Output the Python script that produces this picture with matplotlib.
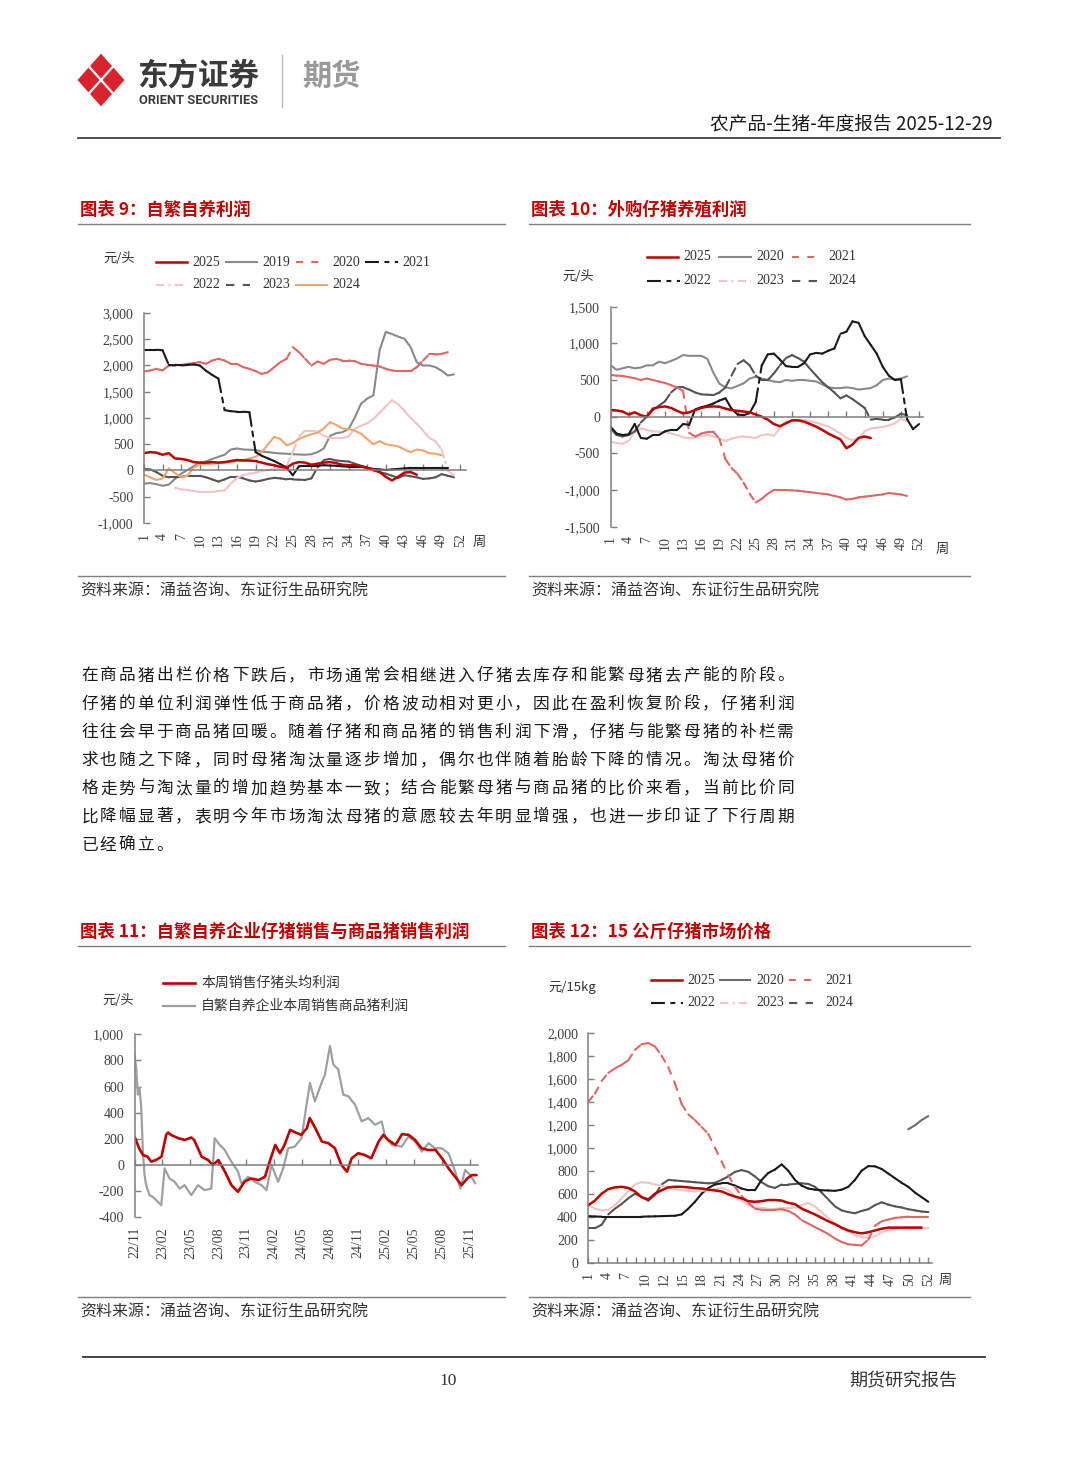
import numpy as np
import matplotlib
matplotlib.use("Agg")
import matplotlib.pyplot as plt
from matplotlib.lines import Line2D
from matplotlib.patches import Polygon
from matplotlib.collections import LineCollection
from matplotlib.transforms import ScaledTranslation

plt.rcParams['font.family'] = ['Liberation Serif', 'Noto Sans CJK SC']
plt.rcParams['lines.scale_dashes'] = False
CJK = ['Noto Sans CJK SC', 'DejaVu Sans']
nan = np.nan

# ---------------- data ----------------
weeks = np.arange(1, 53)
week_ticks = list(range(1, 53, 3))            # 1, 4, ..., 52
week_labels = [str(w) for w in week_ticks]

# chart 9: self-breeding profit (yuan/head)
c9_2025 = [330, 350, 340, 300, 330, 230, 220, 200, 160, 150, 150, 160, 150, 160, 180, 200, 190, 190, 180, 150,
           120, 100, 70, 50, 130, 160, 150, 110, 130, 150, 160, 140, 110, 100, 100, 80, 50, 20, -30, -120,
           -190, -120, -40, -30, -80, nan, nan, nan, nan, nan, nan, nan]
c9_2019 = [-250, -240, -260, -290, -270, -160, -60, 10, 80, 150, 170, 220, 260, 300, 400, 420, 400, 395, 390, 360,
           350, 335, 325, 320, 310, 305, 300, 310, 350, 420, 660, 710, 730, 790, 1010, 1270, 1370, 1430, 2290, 2640,
           2600, 2550, 2510, 2350, 2060, 2000, 2000, 1970, 1900, 1810, 1830, nan]
c9_2020 = [1886, 1905, 1937, 1905, 2000, 2013, 2013, 2032, 2045, 2064, 2032, 2095, 2127, 2095, 2032, 2032, 1968, 1937, 1892, 1840,
           1873, 1968, 2064, 2127, 2350, 2254, 2127, 2000, 2076, 2032, 2108, 2127, 2095, 2095, 2083, 2032, 2013, 2000, 1981, 1937,
           1905, 1892, 1892, 1892, 1968, 2095, 2210, 2210, 2222, 2254, nan, nan]
c9_2021 = [2300, 2300, 2300, 2290, 2010, 2000, 2000, 2010, 2020, 2000, 1900, 1820, 1750, 1150, 1130, 1120, 1120, 1110, 350, 280,
           230, 180, 120, 60, -90, 80, 90, 90, 90, 100, 95, 90, 80, 70, 70, 70, 50, 30, 20, 10,
           20, 30, 40, 50, 50, 50, 50, 50, 50, 50, nan, nan]
c9_2022 = [nan, nan, nan, nan, nan, -330, -360, -370, -390, -410, -410, -410, -390, -380, -250, -140, -90, -60, -40, -10,
           10, 30, 60, 90, 350, 650, 760, 760, 740, 660, 620, 620, 620, 650, 800, 850, 900, 980, 1100, 1220,
           1340, 1260, 1140, 1000, 890, 760, 620, 560, 400, 0, -95, nan]
c9_2023 = [30, 20, -30, -100, -130, -130, -120, -100, -100, -100, -130, -170, -210, -170, -120, -120, -150, -190, -210, -190,
           -160, -140, -150, -170, -170, -175, -180, -150, 60, 200, 220, 190, 180, 170, 130, 90, 60, 0, -30, -60,
           -100, -140, -90, -110, -130, -160, -150, -130, -70, -100, -130, nan]
c9_2024 = [-80, -130, -180, -150, 40, -50, -130, -100, 50, 120, 120, 130, 140, 150, 160, 180, 200, 230, 260, 350,
           500, 640, 600, 480, 520, 600, 650, 690, 720, 800, 920, 870, 800, 790, 760, 700, 600, 500, 560, 500,
           480, 460, 400, 350, 400, 380, 330, 320, 290, nan, nan, nan]

# chart 10: purchased-piglet farming profit (yuan/head)
c10_2025 = [90, 85, 70, 30, 60, 20, 0, 110, 130, 140, 120, 80, 45, 60, 90, 120, 136, 140, 136, 110,
            90, 80, 70, 60, 30, 0, -40, -100, -130, -90, -50, -50, -68, -100, -136, -180, -230, -270, -310, -430,
            -380, -290, -270, -290, nan, nan, nan, nan, nan, nan, nan, nan]
c10_2020 = [704, 640, 660, 680, 660, 670, 700, 700, 750, 730, 760, 795, 841, 830, 830, 830, 790, 600, 450, 400,
            386, 420, 455, 520, 545, 520, 500, 480, 470, 500, 490, 500, 500, 490, 480, 440, 400, 390, 390, 400,
            390, 370, 380, 390, 430, 500, 520, 510, 520, 550, nan, nan]
c10_2021 = [570, 560, 555, 540, 525, 500, 520, 500, 480, 460, 430, 400, 350, -220, -270, -230, -210, -205, -300, -580,
            -700, -780, -900, -1050, -1170, -1120, -1050, -1000, -1000, -1000, -1005, -1010, -1020, -1030, -1040, -1050, -1060, -1080, -1100, -1130,
            -1120, -1100, -1090, -1080, -1070, -1060, -1040, -1050, -1060, -1080, nan, nan]
c10_2022 = [-136, -230, -250, -240, -100, -290, -300, -250, -250, -200, -180, -180, -100, -110, 100, 130, 150, 180, 220, 250,
            110, 30, 20, 50, 200, 700, 850, 860, 780, 690, 680, 680, 730, 850, 870, 860, 900, 930, 1130, 1160,
            1300, 1280, 1100, 980, 860, 680, 560, 500, 510, -30, -170, -100]
c10_2023 = [-340, -360, -370, -330, -210, -160, -180, -200, -205, -210, -230, -250, -280, -295, -280, -260, -250, -270, -300, -330,
            -300, -280, -270, -280, -290, -250, -240, -260, -160, -70, -50, -45, -45, -60, -80, -110, -130, -180, -230, -290,
            -320, -300, -200, -160, -150, -140, -120, -90, -30, -60, nan, nan]
c10_2024 = [-160, -250, -270, -250, -200, -80, 0, 90, 150, 210, 330, 400, 400, 370, 330, 305, 300, 295, 330, 400,
            560, 720, 770, 700, 560, 500, 500, 590, 700, 800, 840, 800, 750, 650, 560, 470, 400, 330, 250, 290,
            240, 180, 120, -40, -30, -40, -40, -10, 40, 20, nan, nan]

# chart 11: piglet vs. hog sales profit, months counted from 2022-11
month_labels = ['22/11', '23/02', '23/05', '23/08', '23/11', '24/02', '24/05',
                '24/08', '24/11', '25/02', '25/05', '25/08', '25/11']
piglet_m = [0, 0.5, 0.9, 1.4, 1.8, 2.3, 2.9, 3.4, 3.6, 3.9, 4.7, 5.4, 6.1, 6.4, 7.2, 7.9, 8.4, 9.0, 9.7, 10.4,
            11.1, 11.8, 12.5, 13.3, 14.0, 14.5, 15.1, 15.6, 16.1, 16.7, 17.2, 17.9, 18.5, 18.8, 19.4, 20.1, 20.8, 21.5, 22.2, 22.8,
            23.3, 24.0, 24.7, 25.4, 26.2, 26.7, 27.2, 28.0, 28.7, 29.4, 30.1, 30.8, 31.5, 32.3, 33.0, 33.7, 34.4, 35.1, 35.7, 36.2, 36.7]
piglet_profit = [218, 128, 77, 64, 26, 38, 64, 231, 249, 231, 205, 192, 210, 192, 64, 38, 0, 38, -51, -154,
                 -205, -128, -103, -115, -90, 26, 154, 90, 154, 269, 251, 231, 282, 359, 282, 180, 167, 128, 0, -51,
                 51, 90, 77, 51, 180, 231, 192, 154, 236, 231, 192, 128, 115, 115, 51, -26, -90, -154, -103, -77, -77]
hog_m = [0, 0.18, 0.36, 0.54, 0.72, 0.9, 1.08, 1.25, 1.61, 1.97, 2.51, 2.87, 3.23, 3.76, 4.3, 4.84, 5.38, 6.09, 6.81, 7.53,
         8.24, 8.6, 9.14, 9.68, 10.39, 11.11, 11.47, 12.19, 12.9, 13.62, 14.16, 14.7, 15.41, 15.95, 16.49, 17.2, 17.92, 18.46, 18.82, 19.35,
         20.07, 20.43, 20.97, 21.33, 21.86, 22.4, 22.94, 23.66, 24.37, 25.09, 25.81, 26.52, 26.88, 27.6, 28.67, 29.39, 30.11, 30.82, 31.54, 32.26,
         32.97, 33.69, 34.41, 34.95, 35.48, 36.02, 36.56]
hog_profit = [846, 744, 538, 590, 436, 103, -77, -154, -231, -244, -282, -308, -26, -103, -128, -180, -154, -231, -154, -192,
              -180, 205, 154, 115, 26, -51, -141, -90, -128, -154, -192, 0, -128, -26, 128, 141, 205, 462, 628, 487,
              628, 692, 910, 769, 731, 538, 526, 462, 333, 359, 308, 333, 218, 154, 141, 218, 180, 103, 167, 128,
              128, 90, -51, -180, -38, -77, -141]

# chart 12: 15kg piglet market price (yuan/15kg)
c12_labels = ['1', '4', '7', '10', '12', '15', '18', '21', '24', '27', '30', '32', '35', '38', '41', '44', '47', '50', '52']
c12_2025 = [500, 540, 600, 640, 655, 660, 650, 620, 570, 550, 600, 630, 655, 660, 660, 655, 648, 645, 635, 628,
            620, 595, 575, 560, 535, 530, 535, 545, 545, 540, 520, 510, 470, 445, 420, 390, 360, 335, 305, 280,
            265, 255, 265, 280, 295, 305, 305, 305, 305, 305, 305, nan]
c12_2020 = [nan] * 48 + [1160, 1195, 1240, 1275]
c12_2021 = [1400, 1470, 1580, 1650, 1690, 1720, 1760, 1850, 1900, 1910, 1880, 1800, 1700, 1560, 1380, 1290, 1240, 1180, 1120, 1000,
            880, 760, 660, 580, 520, 470, 460, 460, 460, 465, 450, 420, 370, 340, 310, 280, 250, 210, 180, 160,
            155, 150, 200, 320, 360, 375, 390, 395, 400, 400, 400, 400]
c12_2022 = [405, 402, 400, 400, 400, 400, 400, 400, 400, 402, 403, 405, 407, 408, 420, 470, 530, 600, 650, 680,
            690, 690, 670, 645, 630, 630, 720, 780, 810, 855, 800, 720, 670, 645, 635, 630, 628, 625, 635, 660,
            720, 800, 840, 838, 815, 775, 735, 695, 660, 610, 570, 530]
c12_2023 = [500, 470, 455, 460, 500, 560, 620, 680, 700, 695, 680, 670, 650, 640, 630, 625, 620, 625, 630, 640,
            650, 630, 580, 540, 500, 480, 475, 470, 470, 475, 475, 480, 500, 520, 490, 440, 390, 340, 300, 270,
            240, 225, 215, 230, 265, 280, 295, 305, 310, 310, 305, 300]
c12_2024 = [300, 300, 330, 420, 470, 510, 560, 600, 570, 540, 590, 680, 720, 715, 710, 705, 700, 695, 690, 695,
            720, 750, 790, 805, 790, 750, 700, 665, 650, 680, 680, 685, 690, 685, 660, 610, 550, 490, 455, 440,
            430, 450, 465, 500, 525, 505, 490, 480, 465, 455, 445, 440]

paragraph = [
    "在商品猪出栏价格下跌后，市场通常会相继进入仔猪去库存和能繁母猪去产能的阶段。",
    "仔猪的单位利润弹性低于商品猪，价格波动相对更小，因此在盈利恢复阶段，仔猪利润",
    "往往会早于商品猪回暖。随着仔猪和商品猪的销售利润下滑，仔猪与能繁母猪的补栏需",
    "求也随之下降，同时母猪淘汰量逐步增加，偶尔也伴随着胎龄下降的情况。淘汰母猪价",
    "格走势与淘汰量的增加趋势基本一致；结合能繁母猪与商品猪的比价来看，当前比价同",
    "比降幅显著，表明今年市场淘汰母猪的意愿较去年明显增强，也进一步印证了下行周期",
    "已经确立。",
]
source = "资料来源：涌益咨询、东证衍生品研究院"

# ---------------- styles ----------------
RED = '#C00000'
LRED = '#E06666'
BLACK = '#1A1A1A'
PINK = '#F2C4C4'
DGRAY = '#555555'
MGRAY = '#8A8A8A'
ORANGE = '#F2A46E'
AXC = '#7F7F7F'
TXT = '#333333'
DASH_L = (5, 6)
DASH_K = (10, 4, 3.5, 4)
DASH_P = (6, 3, 1.5, 3)
DASH_G = (6, 6)

W, H = 1080, 1466
fig = plt.figure(figsize=(W / 100, H / 100), dpi=100)


def X(px):
    return px / W


def Y(py):
    return 1 - py / H


def fig_line(x0, x1, y0, y1, color, lw, dashes=None):
    ln = Line2D([X(x0), X(x1)], [Y(y0), Y(y1)], transform=fig.transFigure, color=color, lw=lw)
    if dashes:
        ln.set_linestyle((0, dashes))
    fig.add_artist(ln)


def fig_text(x, y, s, size, **kw):
    kw.setdefault('va', 'center')
    kw.setdefault('ha', 'left')
    kw.setdefault('color', TXT)
    return fig.text(X(x), Y(y), s, fontsize=size, **kw)


def draw(ax, x, y, color, lw, dashes=None):
    x = np.asarray(x, float)
    y = np.asarray(y, float)
    if dashes is None:
        ax.plot(x, y, color=color, lw=lw, solid_capstyle='round', solid_joinstyle='round')
        return
    # dash pattern restarts on every segment, like the source chart
    pts = np.column_stack([x, y])
    segs = [pts[i:i + 2] for i in range(len(pts) - 1) if np.isfinite(pts[i:i + 2]).all()]
    ax.add_collection(LineCollection(segs, colors=color, linewidths=lw,
                                     linestyles=[(0, dashes)], capstyle='round'))


def make_axes(left, top, right, bottom, xlim, ylim, yticks, ylabels):
    ax = fig.add_axes([X(left), Y(bottom), (right - left) / W, (bottom - top) / H])
    ax.patch.set_alpha(0)
    for s in ['top', 'right']:
        ax.spines[s].set_visible(False)
    for s in ['left', 'bottom']:
        ax.spines[s].set_color(AXC)
        ax.spines[s].set_linewidth(1.1)
    ax.set_xlim(*xlim)
    ax.set_ylim(*ylim)
    ax.set_yticks(yticks)
    ax.set_yticklabels(ylabels)
    ax.tick_params(axis='y', direction='in', length=4, width=1, color=AXC, pad=7.5,
                   labelsize=10, labelcolor='#404040')
    return ax


def zero_axis(ax, ticks, label_pos, labels):
    ax.spines['bottom'].set_position(('data', 0))
    ax.set_xticks(ticks)
    ax.tick_params(axis='x', direction='in', length=4, width=1, color=AXC, labelbottom=False)
    trans = ax.get_xaxis_transform() + ScaledTranslation(0, -7 / 72, fig.dpi_scale_trans)
    for p, lab in zip(label_pos, labels):
        ax.text(p, 0, lab, transform=trans, rotation=90, ha='center', va='top',
                fontsize=10, color='#404040')


def legend_item(x0, x1, y, color, lw, dashes, label, tx, size=10, family=None):
    fig_line(x0, x1, y, y, color, lw, dashes)
    kw = {'family': family} if family else {}
    fig_text(tx, y, label, size, **kw)


# ---------------- page header ----------------
LOGO = '#D9232D'
cx, cy, rx, ry = 101, 80, 25, 28
for dx, dy in [(0, -1), (1, 0), (0, 1), (-1, 0)]:
    qx, qy = cx + dx * rx / 2, cy + dy * ry / 2
    hx, hy = rx / 2 * 0.88, ry / 2 * 0.88
    verts = [(X(qx), Y(qy - hy)), (X(qx + hx), Y(qy)), (X(qx), Y(qy + hy)), (X(qx - hx), Y(qy))]
    fig.add_artist(Polygon(verts, closed=True, transform=fig.transFigure, fc=LOGO, ec='none'))
fig_text(137, 76, "东方证券", 22, family=CJK, weight='bold', color='#3A3A3A')
fig_text(139, 100, "ORIENT SECURITIES", 9.3, family=['Roboto', 'DejaVu Sans'], weight='bold', color='#3A3A3A')
fig_line(282, 282, 55, 107, '#BBBBBB', 1)
fig_text(302, 76, "期货", 21, family=CJK, weight='bold', color='#9A9A9A')
fig_text(993, 124, "农产品-生猪-年度报告 2025-12-29", 13.5, family=CJK, ha='right', color='#1A1A1A')
fig_line(78, 1000, 138, 138, '#404040', 1.3)

# ---------------- section titles & rules ----------------
for x0, x1, ty, title in [(78, 505, 210, "图表 9：自繁自养利润"),
                          (529, 970, 210, "图表 10：外购仔猪养殖利润"),
                          (78, 505, 932, "图表 11：自繁自养企业仔猪销售与商品猪销售利润"),
                          (529, 970, 932, "图表 12：15 公斤仔猪市场价格")]:
    fig_text(x0 + 2, ty, title, 12.5, family=CJK, weight='bold', color=RED)
    fig_line(x0, x1, ty + 14, ty + 14, AXC, 1.0)
for x0, x1, ly in [(78, 505, 576), (529, 970, 576), (78, 505, 1297), (529, 970, 1297)]:
    fig_line(x0, x1, ly, ly, AXC, 1.0)
    fig_text(x0 + 2, ly + 15, source, 11.5, family=CJK, color='#333333')

# ---------------- chart 9 ----------------
ax9 = make_axes(144, 313, 466.4, 523, (1, 53), (-1000, 3000),
                np.arange(-1000, 3001, 500),
                ['-1,000', '-500', '0', '500', '1,000', '1,500', '2,000', '2,500', '3,000'])
zero_axis(ax9, week_ticks, week_ticks, week_labels)
draw(ax9, weeks, c9_2019, MGRAY, 1.5)
draw(ax9, weeks, c9_2023, DGRAY, 1.5, DASH_G)
draw(ax9, weeks, c9_2022, PINK, 1.5, DASH_P)
draw(ax9, weeks, c9_2024, ORANGE, 1.5)
draw(ax9, weeks, c9_2020, LRED, 1.5, DASH_L)
draw(ax9, weeks, c9_2021, BLACK, 1.5, DASH_K)
draw(ax9, weeks, c9_2025, RED, 1.8)
ax9.set_xlim(1, 53)
ax9.set_ylim(-1000, 3000)
fig_text(479, 542, "周", 9.5, family=CJK, ha='center')
fig_text(103, 258, "元/头", 9.5, family=CJK)
legend_item(156, 187, 262, RED, 1.8, None, "2025", 192)
legend_item(226, 257, 262, MGRAY, 1.5, None, "2019", 262)
legend_item(296, 320, 262, LRED, 1.5, DASH_L, "2020", 332)
legend_item(365, 398, 262, BLACK, 1.5, DASH_K, "2021", 402)
legend_item(156, 187, 285, PINK, 1.5, DASH_P, "2022", 192)
legend_item(226, 250, 285, DGRAY, 1.5, DASH_G, "2023", 262)
legend_item(296, 327, 285, ORANGE, 1.5, None, "2024", 332)

# ---------------- chart 10 ----------------
ax10 = make_axes(610.5, 306.7, 922.7, 526.7, (1, 52.6), (-1500, 1500),
                 np.arange(-1500, 1501, 500),
                 ['-1,500', '-1,000', '-500', '0', '500', '1,000', '1,500'])
zero_axis(ax10, week_ticks, week_ticks, week_labels)
draw(ax10, weeks, c10_2020, MGRAY, 1.5)
draw(ax10, weeks, c10_2023, PINK, 1.5, DASH_P)
draw(ax10, weeks, c10_2024, DGRAY, 1.5, DASH_G)
draw(ax10, weeks, c10_2021, LRED, 1.5, DASH_L)
draw(ax10, weeks, c10_2022, BLACK, 1.5, DASH_K)
draw(ax10, weeks, c10_2025, RED, 1.8)
ax10.set_xlim(1, 52.6)
ax10.set_ylim(-1500, 1500)
fig_text(942, 549, "周", 9.5, family=CJK, ha='center')
fig_text(562, 277, "元/头", 9.5, family=CJK)
legend_item(647, 678, 257, RED, 1.8, None, "2025", 683)
legend_item(719, 751, 257, MGRAY, 1.5, None, "2020", 756)
legend_item(792, 817, 257, LRED, 1.5, DASH_L, "2021", 828)
legend_item(647, 680, 281, BLACK, 1.5, DASH_K, "2022", 683)
legend_item(719, 751, 281, PINK, 1.5, DASH_P, "2023", 756)
legend_item(792, 817, 281, DGRAY, 1.5, DASH_G, "2024", 828)

# ---------------- chart 11 ----------------
month_ticks = list(range(0, 37, 3))
ax11 = make_axes(134.5, 1034.3, 477.5, 1217.3, (0, 36.8), (-400, 1000),
                 np.arange(-400, 1001, 200),
                 ['-400', '-200', '0', '200', '400', '600', '800', '1,000'])
zero_axis(ax11, month_ticks, month_ticks, month_labels)
draw(ax11, hog_m, hog_profit, '#A0A0A0', 1.6)
draw(ax11, piglet_m, piglet_profit, RED, 1.9)
ax11.set_xlim(0, 36.8)
ax11.set_ylim(-400, 1000)
fig_text(102, 1000, "元/头", 9.5, family=CJK)
legend_item(163, 195, 983, RED, 1.9, None, "本周销售仔猪头均利润", 201, size=10, family=CJK)
legend_item(163, 195, 1006, '#A0A0A0', 1.6, None, "自繁自养企业本周销售商品猪利润", 201, size=10, family=CJK)

# ---------------- chart 12 ----------------
ax12 = make_axes(588.3, 1032.7, 931.6, 1262.7, (1, 52.5), (0, 2000),
                 np.arange(0, 2001, 200),
                 ['0', '200', '400', '600', '800', '1,000', '1,200', '1,400', '1,600', '1,800', '2,000'])
ax12.set_xticks(np.linspace(1, 52, len(c12_labels)))
ax12.set_xticklabels(c12_labels, rotation=90)
ax12.set_xticks(np.linspace(1, 52, 2 * len(c12_labels) - 1), minor=True)
ax12.tick_params(axis='x', which='both', direction='in', length=4, width=1, color=AXC,
                 pad=7, labelsize=10, labelcolor='#404040')
draw(ax12, weeks, c12_2020, '#6E6E6E', 1.5)
draw(ax12, weeks, c12_2024, DGRAY, 1.5, DASH_G)
draw(ax12, weeks, c12_2022, BLACK, 1.5, DASH_K)
draw(ax12, weeks, c12_2023, PINK, 1.5, DASH_P)
draw(ax12, weeks, c12_2021, LRED, 1.5, DASH_L)
draw(ax12, weeks, c12_2025, RED, 1.8)
ax12.set_xlim(1, 52.5)
ax12.set_ylim(0, 2000)
fig_text(945, 1280, "周", 9.5, family=CJK, ha='center')
fig_text(548, 988, "元/15kg", 9.5, family=CJK)
legend_item(651, 682, 980, RED, 1.8, None, "2025", 687)
legend_item(720, 750, 980, '#6E6E6E', 1.5, None, "2020", 756)
legend_item(789, 813, 980, LRED, 1.5, DASH_L, "2021", 825)
legend_item(651, 683, 1003, BLACK, 1.5, DASH_K, "2022", 687)
legend_item(720, 750, 1003, PINK, 1.5, DASH_P, "2023", 756)
legend_item(789, 813, 1003, DGRAY, 1.5, DASH_G, "2024", 825)

# ---------------- body paragraph (justified, char by char) ----------------
x_start, x_end = 80, 795
pitch_default = (x_end - x_start) / len(paragraph[0])
for i, line in enumerate(paragraph):
    pitch = (x_end - x_start) / len(line) if i < len(paragraph) - 1 else pitch_default
    y = 676 + i * 28.2
    for j, ch in enumerate(line):
        fig_text(x_start + (j + 0.5) * pitch, y, ch, 12, family=CJK, ha='center', color='#1A1A1A')

# ---------------- footer ----------------
fig_line(83, 985, 1357, 1357, '#333333', 1.3)
fig_text(448, 1381, "10", 12.5, ha='center', color='#333333')
fig_text(849, 1381, "期货研究报告", 13, family=CJK, color='#333333')

fig.savefig("out.png", dpi=100)
